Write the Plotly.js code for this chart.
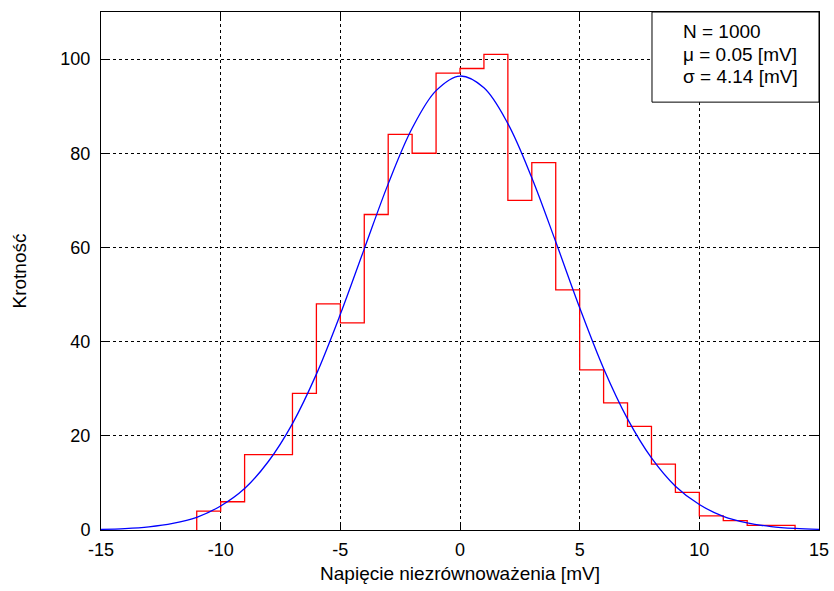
<!DOCTYPE html>
<html>
<head>
<meta charset="utf-8">
<script src="https://cdn.plot.ly/plotly-3.0.1.min.js"></script>
<style>html,body{margin:0;padding:0;background:#fff;}#chart{width:834px;height:591px;}</style>
</head>
<body>
<div id="chart"></div>
<script>
// Histogram: left bin edges (width 1 mV) and counts
const binLeft = [-11,-10,-9,-8,-7,-6,-5,-4,-3,-2,-1,0,1,2,3,4,5,6,7,8,9,10,11,12,13];
const counts  = [4,6,16,16,29,48,44,67,84,80,97,98,101,70,78,51,34,27,22,14,8,3,2,1,1];
const binWidth = 1;

// Fitted curve, values at integer x
const curveX = [-15,-14,-13,-12,-11,-10,-9,-8,-7,-6,-5,-4,-3,-2,-1,0,1,2,3,4,5,6,7,8,9,10,11,12,13,14,15];
const curveY = [0.13,0.3,0.67,1.4,2.7,5.1,8.8,14.6,22.6,33.1,45.8,59.7,73.5,85.3,93.3,96.4,93.9,86.3,74.8,61.2,47.2,34.3,23.6,15.3,9.3,5.4,2.9,1.5,0.72,0.33,0.14];

const statLines = ["N = 1000", "\u03bc = 0.05 [mV]", "\u03c3 = 4.14 [mV]"];
const xTicks = [-15,-10,-5,0,5,10,15];
const yTicks = [0,20,40,60,80,100];

// Build step outline
const hx = [binLeft[0]];
const hy = [0];
for (let i = 0; i < binLeft.length; i++) { hx.push(binLeft[i]); hy.push(counts[i]); }
hx.push(binLeft[binLeft.length-1] + binWidth); hy.push(0);

const traces = [
  {x: hx, y: hy, type: 'scatter', mode: 'lines', line: {shape: 'hv', color: '#ff0000', width: 1.3}, hoverinfo: 'skip'},
  {x: curveX, y: curveY, type: 'scatter', mode: 'lines', line: {shape: 'spline', smoothing: 1, color: '#0000ff', width: 1.3}, hoverinfo: 'skip'}
];

const fam = 'Liberation Sans, Arial, sans-serif';
const tickFont = {family: fam, size: 18, color: '#000'};
const textFont = {family: fam, size: 19, color: '#000'};
const axisCommon = {
  showline: true, linecolor: '#000', linewidth: 1, mirror: 'ticks',
  ticks: 'inside', ticklen: 7, tickcolor: '#000', tickwidth: 1,
  showgrid: true, gridcolor: '#000', gridwidth: 1, griddash: 'dot',
  zeroline: false, tickfont: tickFont
};

const statY = [0.9614, 0.9189, 0.8764];

const layout = {
  width: 834, height: 591,
  margin: {l: 101, r: 15, t: 12, b: 61},
  paper_bgcolor: '#fff', plot_bgcolor: '#fff',
  showlegend: false, font: textFont,
  xaxis: Object.assign({}, axisCommon, {
    range: [-15, 15], tickvals: xTicks, ticktext: xTicks.map(String),
    ticklabelstandoff: 3,
    title: {text: 'Napi\u0119cie niezr\u00f3wnowa\u017cenia [mV]', font: textFont, standoff: 8}
  }),
  yaxis: Object.assign({}, axisCommon, {
    range: [0, 110], tickvals: yTicks, ticktext: yTicks.map(String),
    ticklabelstandoff: 6,
    title: {text: 'Krotno\u015b\u0107', font: textFont, standoff: 28}
  }),
  shapes: [{type: 'rect', xref: 'paper', yref: 'paper', x0: 0.7674, x1: 1, y0: 0.826, y1: 1,
            fillcolor: '#fff', line: {color: '#000', width: 1}, layer: 'above'}],
  annotations: statLines.map((t, i) => ({xref: 'paper', yref: 'paper', x: 0.8078, y: statY[i],
                 xanchor: 'left', yanchor: 'middle', align: 'left', showarrow: false, text: t, font: textFont}))
};

Plotly.newPlot('chart', traces, layout, {staticPlot: true, displayModeBar: false});
</script>
</body>
</html>
